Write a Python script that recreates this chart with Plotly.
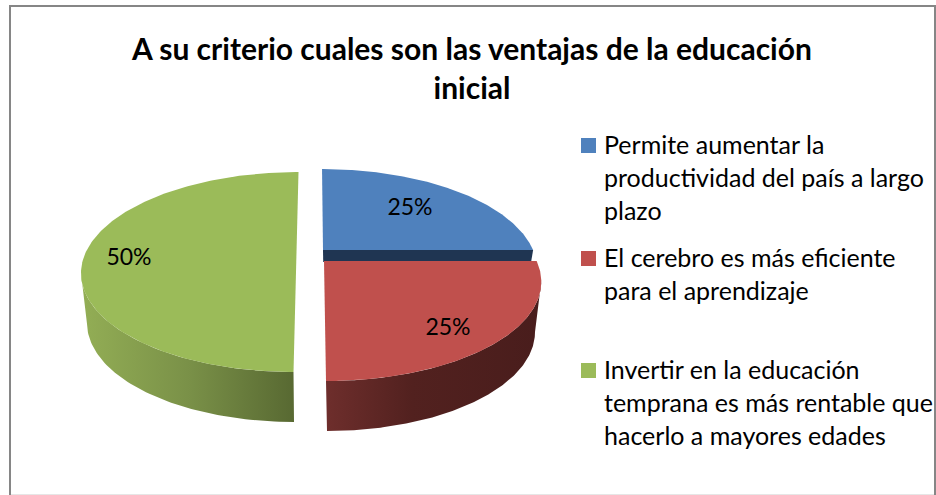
import numpy as np
import plotly.graph_objects as go

title_text = "A su criterio cuales son las ventajas de la educación<br>inicial"
series_values = [25, 25, 50]
slice_colors = ["#4F81BD", "#C0504D", "#9BBB59"]
legend_lines = [
    ["Permite aumentar la", "productividad del país a largo", "plazo"],
    ["El cerebro es más eficiente", "para el aprendizaje"],
    ["Invertir en la educación", "temprana es más rentable que", "hacerlo a mayores edades"],
]

W, H = 936, 495
# projected geometry of each exploded slice (pixels on a 1:1 plot scale)
geom = [
    dict(ax=323, ay=250, cy=269, rx=214, ry=100, k=0.012, lx=323, ly=310, lrx=207, lry=99),
    dict(ax=324, ay=261, cy=281, rx=217, ry=100, k=0.0167, lx=327, ly=332, lrx=208, lry=99),
    dict(ax=296.5, ay=252, cy=272, rx=215, ry=100, k=-0.025, lx=294, ly=323, lrx=207, lry=99),
]
label_pos = [(410, 209), (448, 329), (129, 259)]
wall_scales = [
    None,
    [[0, "#6E2E2C"], [0.4, "#52211F"], [1, "#491D1C"]],
    [[0, "#93AE55"], [0.5, "#7A9148"], [1, "#586932"]],
]

def unit_arc(phi, off):
    s, c = np.sin(phi), -np.cos(phi)
    pd = off * c
    t = -pd + np.sqrt(pd ** 2 - (off ** 2 - 1))
    return t * s, off + t * c

total = sum(series_values)
edges = np.cumsum([0] + series_values) / total * 2 * np.pi
fig = go.Figure()

for i, g in enumerate(geom):
    phi = np.linspace(edges[i], edges[i + 1], 160)
    off = (g["ay"] - g["cy"]) / g["ry"]
    u, v = unit_arc(phi, off)
    y = g["cy"] + v * g["ry"]
    x = g["ax"] + u * g["rx"] + g["k"] * (y - g["ay"])
    if wall_scales[i] is not None:
        keep = v >= 0
        lx = g["lx"] + u[keep] * g["lrx"]
        ly = g["ly"] + v[keep] * g["lry"]
        fig.add_trace(go.Scatter(
            x=np.r_[x[keep], lx[::-1]], y=np.r_[y[keep], ly[::-1]],
            mode="lines", line=dict(width=0), fill="toself",
            fillgradient=dict(type="horizontal", colorscale=wall_scales[i]),
            hoverinfo="skip", showlegend=False))
    else:
        # inner wall seen under the first slice
        fig.add_trace(go.Scatter(
            x=[g["ax"], x[-1], x[-1] - 2, g["ax"] + 0.2],
            y=[g["ay"], g["ay"], g["ay"] + 12, g["ay"] + 12],
            mode="lines", line=dict(width=0), fill="toself", fillcolor="#1F3552",
            hoverinfo="skip", showlegend=False))

for i, g in enumerate(geom):
    phi = np.linspace(edges[i], edges[i + 1], 200)
    off = (g["ay"] - g["cy"]) / g["ry"]
    u, v = unit_arc(phi, off)
    y = g["cy"] + v * g["ry"]
    x = g["ax"] + u * g["rx"] + g["k"] * (y - g["ay"])
    fig.add_trace(go.Scatter(
        x=np.r_[g["ax"], x, g["ax"]], y=np.r_[g["ay"], y, g["ay"]],
        mode="lines", line=dict(width=0), fill="toself", fillcolor=slice_colors[i],
        hoverinfo="skip", showlegend=False))

fig.add_trace(go.Scatter(
    x=[p[0] for p in label_pos], y=[p[1] for p in label_pos],
    text=[f"{round(v / total * 100)}%" for v in series_values],
    mode="text", textfont=dict(family="Lato", size=23, color="#000000"),
    hoverinfo="skip", showlegend=False))

legend_y = [(145.5, 33), (258.5, 33), (370.5, 33)]
for lines, col, (y0, dy) in zip(legend_lines, slice_colors, legend_y):
    fig.add_shape(type="rect", x0=581, x1=596, y0=y0 - 7.5, y1=y0 + 7.5,
                  fillcolor=col, line_width=0, layer="above")
    for j, line in enumerate(lines):
        fig.add_annotation(x=604, y=y0 - 2 + j * dy, text=line, xanchor="left", yanchor="middle",
                           showarrow=False, align="left", xshift=-2,
                           font=dict(family="Lato", size=25, color="#000000"))

fig.add_shape(type="line", x0=10, x1=935, y0=494.5, y1=494.5, line=dict(color="#E6E6E6", width=1), layer="above")
fig.add_shape(type="path", path="M 10 495 L 10 6 L 935 6 L 935 495", line=dict(color="#868686", width=2),
              fillcolor="rgba(0,0,0,0)", layer="above")

fig.update_layout(
    width=W, height=H, margin=dict(l=0, r=0, t=0, b=0),
    paper_bgcolor="#FFFFFF", plot_bgcolor="#FFFFFF", showlegend=False,
    title=dict(text="<b>" + title_text.replace("<br>", "</b><br><b>") + "</b>",
               x=472 / W, xanchor="center", y=1 - 60 / H, yanchor="top",
               font=dict(family="Lato", size=30, color="#000000")),
    xaxis=dict(range=[0, W], visible=False, fixedrange=True),
    yaxis=dict(range=[H, 0], visible=False, fixedrange=True),
)
fig.write_html("out.html", config=dict(displayModeBar=False),
               post_script="document.body.style.margin='0';document.documentElement.style.overflow='hidden';")
